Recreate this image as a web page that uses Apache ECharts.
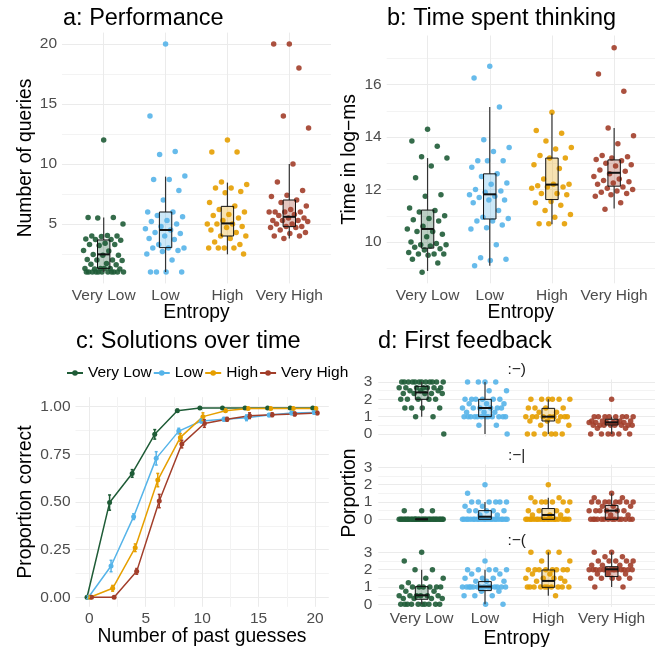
<!DOCTYPE html>
<html>
<head>
<meta charset="utf-8">
<script src="https://cdn.jsdelivr.net/npm/echarts@6/dist/echarts.min.js"></script>
<style>html,body{margin:0;padding:0;background:#fff}#chart{width:661px;height:647px}</style>
</head>
<body>
<div id="chart"></div>
<script>
const FONT = '"Liberation Sans", Arial, sans-serif';
const GROUPS = ['Very Low', 'Low', 'High', 'Very High'];
const COLORS = ['#1f5c37', '#56b4e9', '#e69f00', '#a23e2a'];

// a: number of queries, one value per participant
const queriesVeryLow = [12, 5.55, 5.55, 5.5, 5.0, 4.05, 4.0, 4.0, 3.95, 3.75, 3.7, 3.7, 3.65, 3.4, 3.3, 3.3, 3.2,
  2.8, 2.75, 2.45, 2.4, 2.4, 2.05, 2.0, 2.0, 1.95, 1.7, 1.65, 1.6, 1.3, 1.3, 1.3, 1.25, 1.25, 1.3,
  1, 1, 1, 1, 1, 1, 1, 1, 1, 1, 1];
const queriesLow = [20, 14, 11.05, 10.8, 9.0, 8.7, 8.7, 7.8, 7.0, 6.0, 6.0, 5.7, 5.6, 5.3, 5.2, 5.0, 4.8, 4.6,
  4.5, 4.3, 4.2, 4.0, 3.8, 3.7, 3.3, 3.0, 3.0, 3.0, 2.8, 2.7, 2.5, 2.0, 1, 1, 1, 1];
const queriesHigh = [12, 11, 11, 8.5, 8.3, 8.0, 8.0, 7.7, 7.6, 6.8, 6.5, 6.2, 6.0, 5.8, 5.7, 5.5, 5.3, 5.0, 5.0,
  5.0, 4.8, 4.7, 4.5, 4.3, 4.0, 4.0, 3.8, 3.5, 3.3, 3.0, 3.0, 3.0, 3.0, 2.5];
const queriesVeryHigh = [20, 20, 18, 14, 13, 10, 8.5, 7.8, 7.4, 7.3, 7.0, 6.8, 6.5, 6.2, 6.0, 6.0, 6.0, 6.0, 5.8,
  5.7, 5.5, 5.5, 5.3, 5.3, 5.3, 5.2, 5.0, 5.0, 4.8, 4.8, 4.7, 4.7, 4.5, 4.3, 4.2, 4.0, 4.0, 3.8];
// [lower whisker, Q1, median, Q3, upper whisker]
const queriesBoxes = [[1, 1.3, 2.47, 3.67, 5.55], [1, 3.03, 4.5, 6.0, 8.95], [2.47, 4.0, 5.05, 6.47, 8.45], [3.8, 4.78, 5.6, 7.0, 10]];

// b: time spent thinking (log-ms)
const thinkVeryLow = [14.3, 13.85, 13.65, 13.25, 13.2, 12.9, 12.45, 11.8, 11.75, 11.3, 11.2, 11.15, 11.0, 10.9, 10.85,
  10.8, 10.6, 10.5, 10.4, 10.4, 10.3, 10.2, 10.0, 9.95, 9.9, 9.9, 9.85, 9.8, 9.75, 9.7, 9.6, 9.55, 9.55, 9.55, 9.5,
  9.35, 9.2, 8.85];
const thinkLow = [16.7, 16.25, 15.15, 13.9, 13.6, 13.45, 13.1, 13.1, 13.1, 12.85, 12.6, 12.5, 12.25, 12.2, 12.0, 11.95,
  11.9, 11.8, 11.75, 11.7, 11.6, 11.6, 11.5, 11.2, 10.95, 10.9, 10.8, 10.8, 10.65, 10.55, 10.5, 9.9, 9.4, 9.35, 9.3, 9.1];
const thinkHigh = [14.95, 14.25, 14.15, 13.85, 13.6, 13.55, 13.3, 13.2, 13.2, 12.95, 12.8, 12.4, 12.2, 12.2, 12.15,
  12.1, 12.1, 12.05, 11.85, 11.85, 11.8, 11.55, 11.5, 11.4, 11.2, 11.05, 10.95, 10.7, 10.7, 10.7];
const thinkVeryHigh = [17.4, 16.4, 15.75, 14.35, 14.05, 13.75, 13.3, 13.25, 13.2, 13.15, 13.1, 13.0, 12.95, 12.9,
  12.75, 12.7, 12.6, 12.5, 12.4, 12.35, 12.3, 12.25, 12.2, 12.1, 12.05, 12.0, 11.95, 11.9, 11.85, 11.8, 11.75, 11.5, 11.25];
const thinkBoxes = [[8.9, 9.77, 10.5, 11.22, 13.2], [9.1, 10.88, 11.82, 12.6, 15.15], [10.68, 11.62, 12.19, 13.2, 14.9], [11.28, 12.13, 12.64, 13.13, 14.35]];

// c: proportion correct after n past guesses (mean, standard error)
const guesses = [0, 2, 4, 6, 8, 10, 12, 14, 16, 18, 20];
const correctVeryLow = [0, 0.497, 0.65, 0.855, 0.979, 0.993, 0.993, 0.993, 0.993, 0.993, 0.993];
const correctLow = [0, 0.164, 0.423, 0.729, 0.872, 0.925, 0.934, 0.942, 0.956, 0.967, 0.97];
const correctHigh = [0, 0.047, 0.26, 0.615, 0.839, 0.948, 0.979, 0.991, 0.991, 0.991, 0.991];
const correctVeryHigh = [0, 0, 0.136, 0.505, 0.804, 0.912, 0.934, 0.953, 0.958, 0.962, 0.967];
const errVeryLow = [0, 0.04, 0.02, 0.025, 0.008, 0.005, 0.005, 0.005, 0.005, 0.005, 0.005];
const errLow = [0, 0.03, 0.015, 0.035, 0.015, 0.01, 0.01, 0.015, 0.008, 0.008, 0.008];
const errHigh = [0, 0.015, 0.02, 0.035, 0.02, 0.02, 0.008, 0.005, 0.005, 0.005, 0.005];
const errVeryHigh = [0, 0.005, 0.015, 0.035, 0.02, 0.02, 0.01, 0.015, 0.01, 0.01, 0.008];

// d: first feedback, [value, number of participants]
const feedbackLabels = [':\u2212)', ':\u2212|', ':\u2212('];
const happyVeryLow = [[3, 12], [2.67, 7], [2.5, 3], [2.33, 5], [2, 5], [1.5, 4], [1, 2], [0, 1]];
const happyLow = [[3, 4], [2.5, 2], [2, 6], [1.75, 3], [1.5, 6], [1.25, 3], [1, 12], [0.5, 2], [0, 1]];
const happyHigh = [[2, 6], [1.5, 4], [1.25, 2], [1, 9], [0.75, 3], [0.5, 2], [0, 6]];
const happyVeryHigh = [[2, 1], [1, 8], [0.75, 4], [0.67, 6], [0.5, 8], [0.33, 2], [0, 6]];
const neutralVeryLow = [[0.5, 3], [0, 35]];
const neutralLow = [[2, 1], [1.5, 1], [1, 6], [0.75, 2], [0.5, 5], [0.25, 2], [0, 22]];
const neutralHigh = [[2, 1], [1.25, 2], [1, 6], [0.5, 4], [0.25, 3], [0, 20]];
const neutralVeryHigh = [[1.5, 1], [1.25, 2], [1, 8], [0.75, 3], [0.5, 6], [0.25, 2], [0, 14]];
const sadVeryLow = [[3, 1], [2.5, 1], [2, 2], [1.5, 2], [1.25, 1], [1, 7], [0.75, 2], [0.5, 6], [0.33, 4], [0, 10]];
const sadLow = [[2.5, 1], [2, 5], [1.75, 2], [1.5, 3], [1.33, 3], [1, 14], [0.75, 2], [0.5, 3], [0, 2]];
const sadHigh = [[3, 3], [2.5, 2], [2, 8], [1.75, 2], [1.5, 4], [1.33, 2], [1, 10], [0.5, 1]];
const sadVeryHigh = [[3, 2], [2.75, 2], [2.5, 5], [2.25, 4], [2, 14], [1.75, 3], [1.5, 5], [1, 2]];
const happyBoxes = [[1, 2, 2.4, 2.75, 3], [0, 1, 1.5, 2, 3], [0, 0.75, 1, 1.48, 2], [0, 0.52, 0.67, 0.85, 1]];
const neutralBoxes = [[0, 0, 0, 0, 0], [0, 0, 0.15, 0.5, 1], [0, 0, 0.25, 0.62, 1.25], [0, 0, 0.5, 0.8, 1.5]];
const sadBoxes = [[0, 0.29, 0.52, 1.02, 2], [0, 0.79, 1.02, 1.31, 2], [0.5, 0.98, 1.35, 1.98, 3], [1, 1.6, 2.02, 2.17, 3]];

const BOX_WIDTH = 0.2;
const DODGE = [-0.2, -0.07, 0.07, 0.2];
const MAJOR = '#ebebeb', MINOR = '#f3f3f3';
const TICK = { color: '#4d4d4d', fontSize: 15.5, fontFamily: FONT };

const expand = runs => runs.flatMap(([v, n]) => Array(n).fill(v));
// spread points sideways like geom_jitter, but reproducibly
const jitter = (i, w) => (((i * 0.6180339887) + 0.5) % 1 - 0.5) * 2 * w;

const grids = [
  { left: 62, top: 32.6, width: 269, height: 250.8 },      // a
  { left: 386.7, top: 35.5, width: 268.3, height: 247.8 },  // b
  { left: 75.5, top: 397.2, width: 253.3, height: 209.6 },  // c
  { left: 378.3, top: 379.4, width: 276.7, height: 57.2 },  // d :-)
  { left: 378.3, top: 464.7, width: 276.7, height: 57.2 },  // d :-|
  { left: 378.3, top: 549.7, width: 276.7, height: 57.2 },  // d :-(
].map(g => ({ ...g, outerBoundsMode: 'none' }));

function catX(gridIndex, min, max, showLabels) {
  return {
    type: 'value', gridIndex, min, max,
    axisLine: { show: false },
    axisTick: { show: false, customValues: [1, 2, 3, 4] },
    axisLabel: { show: showLabels, customValues: [1, 2, 3, 4], formatter: v => GROUPS[Math.round(v) - 1], margin: 4, ...TICK },
    splitLine: { show: true, lineStyle: { color: MAJOR, width: 1 } },
  };
}

function valueAxis(gridIndex, min, max, ticks, labels, fmt, colors, margin) {
  return {
    type: 'value', gridIndex, min, max,
    axisLine: { show: false },
    axisTick: { show: false, customValues: ticks },
    axisLabel: { customValues: labels, formatter: fmt, margin, ...TICK },
    splitLine: { show: true, lineStyle: { color: colors, width: 1 } },
  };
}

function pointSeries(panel, grid, groups, w) {
  return groups.map((vals, g) => ({
    type: 'scatter', name: panel + ' ' + GROUPS[g], xAxisIndex: grid, yAxisIndex: grid,
    data: vals.map((v, i) => [g + 1 + jitter(i, w), v]),
    symbolSize: 5.5, itemStyle: { color: COLORS[g], opacity: 0.9 }, z: 2, silent: true,
  }));
}

function renderBox(params, api) {
  const x = api.value(0);
  const p = [1, 2, 3, 4, 5].map(d => api.coord([x, api.value(d)]));
  const half = api.size([BOX_WIDTH, 0])[0] / 2;
  const color = COLORS[api.value(6)];
  const cx = p[0][0];
  const whisker = { stroke: '#333', lineWidth: 1.2 };
  return {
    type: 'group',
    children: [
      { type: 'line', shape: { x1: cx, y1: p[0][1], x2: cx, y2: p[1][1] }, style: whisker },
      { type: 'line', shape: { x1: cx, y1: p[3][1], x2: cx, y2: p[4][1] }, style: whisker },
      { type: 'rect', shape: { x: cx - half, y: p[3][1], width: 2 * half, height: p[1][1] - p[3][1] },
        style: { fill: echarts.color.modifyAlpha(color, 0.3), stroke: '#111', lineWidth: 1 } },
      { type: 'line', shape: { x1: cx - half, y1: p[2][1], x2: cx + half, y2: p[2][1] }, style: { stroke: '#111', lineWidth: 2 } },
    ],
  };
}

function boxSeries(grid, boxes) {
  return {
    type: 'custom', xAxisIndex: grid, yAxisIndex: grid, z: 3, silent: true,
    data: boxes.map((b, g) => [g + 1, ...b, g]),
    encode: { x: 0, y: [1, 2, 3, 4, 5] },
    renderItem: renderBox,
  };
}

const correct = [correctVeryLow, correctLow, correctHigh, correctVeryHigh];
const errors = [errVeryLow, errLow, errHigh, errVeryHigh];

const lineSeries = correct.map((vals, g) => ({
  type: 'line', name: GROUPS[g], xAxisIndex: 2, yAxisIndex: 2,
  data: guesses.map((x, i) => [x + DODGE[g], vals[i]]),
  symbol: 'circle', symbolSize: 5, showSymbol: true,
  lineStyle: { width: 1.5, color: COLORS[g] }, itemStyle: { color: COLORS[g] }, z: 2, silent: true,
}));

const errorSeries = correct.map((vals, g) => ({
  type: 'custom', xAxisIndex: 2, yAxisIndex: 2, z: 3, silent: true,
  data: guesses.map((x, i) => [x + DODGE[g], vals[i] - errors[g][i], vals[i] + errors[g][i]]),
  encode: { x: 0, y: [1, 2] },
  renderItem(params, api) {
    const lo = api.coord([api.value(0), api.value(1)]);
    const hi = api.coord([api.value(0), api.value(2)]);
    const st = { stroke: COLORS[g], lineWidth: 1.5 };
    return {
      type: 'group',
      children: [
        { type: 'line', shape: { x1: lo[0], y1: lo[1], x2: hi[0], y2: hi[1] }, style: st },
        { type: 'line', shape: { x1: lo[0] - 1.5, y1: lo[1], x2: lo[0] + 1.5, y2: lo[1] }, style: st },
        { type: 'line', shape: { x1: hi[0] - 1.5, y1: hi[1], x2: hi[0] + 1.5, y2: hi[1] }, style: st },
      ],
    };
  },
}));

function text(t, x, y, size, opts = {}) {
  return {
    type: 'text', x, y, rotation: opts.rot || 0, silent: true,
    style: { text: t, fontSize: size, fontFamily: FONT, fill: opts.color || '#000', align: opts.align || 'center', verticalAlign: 'middle' },
  };
}

const dGroups = [
  [happyVeryLow, happyLow, happyHigh, happyVeryHigh],
  [neutralVeryLow, neutralLow, neutralHigh, neutralVeryHigh],
  [sadVeryLow, sadLow, sadHigh, sadVeryHigh],
];
const dBoxes = [happyBoxes, neutralBoxes, sadBoxes];

const chart = echarts.init(document.getElementById('chart'), null, { renderer: 'canvas' });

const ROT = Math.PI / 2;
chart.setOption({
  backgroundColor: '#fff',
  animation: false,
  grid: grids,
  xAxis: [
    catX(0, 0.326, 4.674, true),
    catX(1, 0.343, 4.657, true),
    valueAxis(2, -1.22, 21.22, [0, 2.5, 5, 7.5, 10, 12.5, 15, 17.5, 20], [0, 5, 10, 15, 20], v => String(v), [MAJOR, MINOR], 4),
    catX(3, 0.315, 4.685, false),
    catX(4, 0.315, 4.685, false),
    catX(5, 0.315, 4.685, true),
  ],
  yAxis: [
    valueAxis(0, 0.05, 20.95, [2.5, 5, 7.5, 10, 12.5, 15, 17.5, 20], [5, 10, 15, 20], v => String(v), [MINOR, MAJOR], 5),
    valueAxis(1, 8.43, 17.87, [9, 10, 11, 12, 13, 14, 15, 16, 17], [10, 12, 14, 16], v => String(v), [MINOR, MAJOR], 5),
    valueAxis(2, -0.05, 1.05, [0, 0.125, 0.25, 0.375, 0.5, 0.625, 0.75, 0.875, 1], [0, 0.25, 0.5, 0.75, 1], v => v.toFixed(2), [MAJOR, MINOR], 5),
    ...[3, 4, 5].map(i => valueAxis(i, -0.15, 3.15, [0, 0.5, 1, 1.5, 2, 2.5, 3], [0, 1, 2, 3], v => String(v), [MAJOR, MINOR], 6)),
  ],
  legend: {
    data: GROUPS, left: 66, top: 365, padding: 0, itemWidth: 16, itemHeight: 7, itemGap: 1, selectedMode: false,
    textStyle: { fontSize: 15.5, fontFamily: FONT, color: '#000' },
  },
  graphic: [
    text('a: Performance', 63, 18.6, 23.5, { align: 'left' }),
    text('b: Time spent thinking', 387, 18.6, 23.5, { align: 'left' }),
    text('c: Solutions over time', 76, 342, 23.5, { align: 'left' }),
    text('d: First feedback', 378, 342, 23.5, { align: 'left' }),
    text('Number of queries', 25.6, 158, 19.3, { rot: ROT }),
    text('Time in log\u2212ms', 350, 159.4, 19.3, { rot: ROT }),
    text('Proportion correct', 25.6, 502, 19.3, { rot: ROT }),
    text('Porportion', 349.2, 493, 19.3, { rot: ROT }),
    text('Entropy', 196.5, 312.5, 19.3),
    text('Entropy', 520.8, 312.5, 19.3),
    text('Number of past guesses', 202, 637, 19.3),
    text('Entropy', 516.7, 638.7, 19.3),
    text(feedbackLabels[0], 516.7, 370, 15.5, { color: '#1a1a1a' }),
    text(feedbackLabels[1], 516.7, 455.3, 15.5, { color: '#1a1a1a' }),
    text(feedbackLabels[2], 516.7, 540.3, 15.5, { color: '#1a1a1a' }),
  ],
  series: [
    ...pointSeries('a', 0, [queriesVeryLow, queriesLow, queriesHigh, queriesVeryHigh], 0.33),
    boxSeries(0, queriesBoxes),
    ...pointSeries('b', 1, [thinkVeryLow, thinkLow, thinkHigh, thinkVeryHigh], 0.33),
    boxSeries(1, thinkBoxes),
    ...lineSeries,
    ...errorSeries,
    ...dGroups.flatMap((groups, f) => [
      ...pointSeries('d' + f, 3 + f, groups.map(expand), 0.36),
      boxSeries(3 + f, dBoxes[f]),
    ]),
  ],
});
</script>
</body>
</html>
